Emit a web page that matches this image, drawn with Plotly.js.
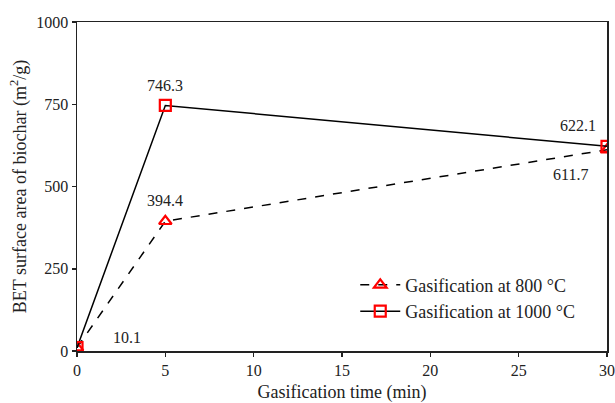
<!DOCTYPE html>
<html><head><meta charset="utf-8">
<script src="https://cdn.plot.ly/plotly-3.0.1.min.js"></script>
<style>html,body{margin:0;padding:0;background:#fff}#c{width:615px;height:403px}</style>
</head><body><div id="c"></div>
<script>
const time = [0, 5, 30];
const bet800 = [10.1, 394.4, 611.7];
const bet1000 = [10.1, 746.3, 622.1];
const name800 = 'Gasification at 800 °C';
const name1000 = 'Gasification at 1000 °C';
const xTicks = [0, 5, 10, 15, 20, 25, 30];
const yTicks = [0, 250, 500, 750, 1000];

const font = {family: 'Times New Roman, Liberation Serif, serif', color: '#222'};

const traces = [
  {x: time, y: bet800, name: name800, mode: 'lines+markers', type: 'scatter',
   line: {color: '#000', width: 1.5, dash: 'dash'},
   marker: {symbol: 'triangle-up-open', size: 11, color: '#ff0000', line: {width: 2.2, color: '#ff0000'}}},
  {x: time, y: bet1000, name: name1000, mode: 'lines+markers', type: 'scatter',
   line: {color: '#000', width: 1.5},
   marker: {symbol: 'square-open', size: 11, color: '#ff0000', line: {width: 2.2, color: '#ff0000'}}}
];

const fmt = v => v.toFixed(1);
const annotations = [
  {x: time[0], y: bet1000[0], text: fmt(bet1000[0]), xshift: 50, yshift: 10},
  {x: time[1], y: bet1000[1], text: fmt(bet1000[1]), xshift: 0, yshift: 20},
  {x: time[1], y: bet800[1], text: fmt(bet800[1]), xshift: 0, yshift: 21},
  {x: time[2], y: bet1000[2], text: fmt(bet1000[2]), xshift: -29, yshift: 21},
  {x: time[2], y: bet800[2], text: fmt(bet800[2]), xshift: -37, yshift: -25}
].map(a => Object.assign({xref: 'x', yref: 'y', showarrow: false, font: Object.assign({}, font, {size: 16})}, a));

const layout = {
  width: 615, height: 403,
  margin: {l: 77, r: 8, t: 22, b: 52},
  paper_bgcolor: '#fff', plot_bgcolor: '#fff',
  font: Object.assign({}, font, {size: 16}),
  showlegend: true,
  legend: {x: 0.525, y: 0.065, xanchor: 'left', yanchor: 'bottom', bgcolor: 'rgba(0,0,0,0)',
           font: Object.assign({}, font, {size: 18}), tracegroupgap: 0, itemwidth: 40},
  xaxis: {range: [0, 30], tickvals: xTicks, ticks: 'outside', ticklen: 4, tickwidth: 1.5, tickcolor: '#222',
          showline: true, linecolor: '#222', linewidth: 1.5, mirror: true, showgrid: false, zeroline: false,
          tickfont: Object.assign({}, font, {size: 16}),
          title: {text: 'Gasification time (min)', font: Object.assign({}, font, {size: 18}), standoff: 14}},
  yaxis: {range: [0, 1000], tickvals: yTicks, ticks: 'outside', ticklen: 4, tickwidth: 1.5, tickcolor: '#222',
          showline: true, linecolor: '#222', linewidth: 1.5, mirror: true, showgrid: false, zeroline: false,
          tickfont: Object.assign({}, font, {size: 16}),
          title: {text: 'BET surface area of biochar (m<sup>2</sup>/g)', font: Object.assign({}, font, {size: 18}), standoff: 5}},
  annotations: annotations
};

Plotly.newPlot('c', traces, layout, {displayModeBar: false, staticPlot: true});
</script>
</body></html>
